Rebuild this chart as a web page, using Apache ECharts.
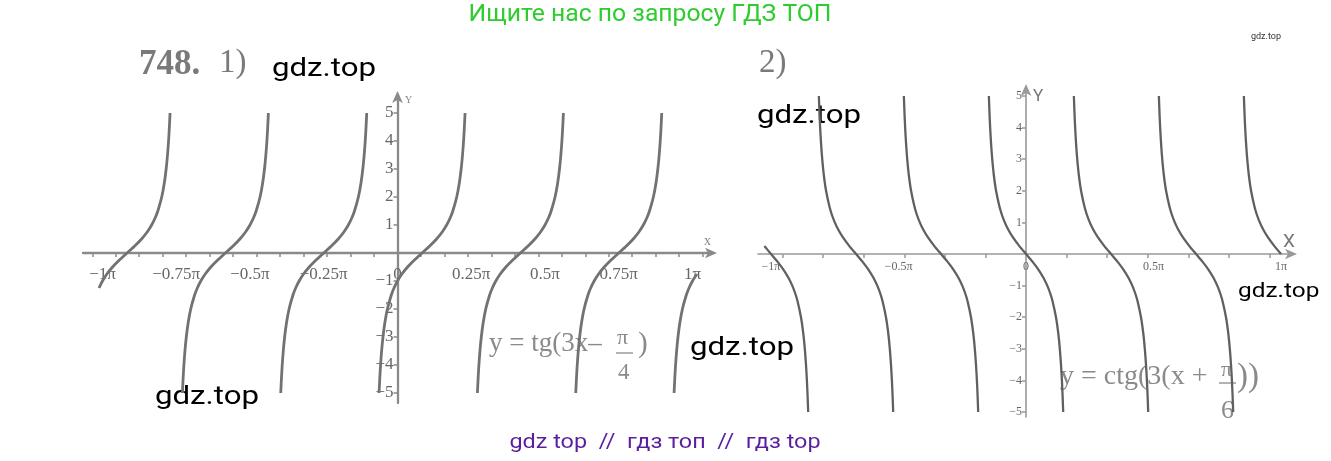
<!DOCTYPE html>
<html>
<head>
<meta charset="utf-8">
<script src="https://cdn.jsdelivr.net/npm/echarts@6/dist/echarts.min.js"></script>
<style>
html,body{margin:0;padding:0;background:#fff;}
#chart{width:1331px;height:461px;}
</style>
</head>
<body>
<div id="chart"></div>
<script>
// ---- Data (x in radians) ----
// Shape of one branch: offset from the branch centre (rad) and the value.
const branchDx = [-0.4578,-0.4507,-0.4420,-0.4308,-0.4163,-0.3968,-0.3691,-0.3276,-0.2987,-0.2618,-0.2145,-0.1545,-0.0817,0,0.0817,0.1545,0.2145,0.2618,0.2987,0.3276,0.3691,0.3968,0.4163,0.4308,0.4420,0.4507,0.4578];
const tanY = [-5,-4.5,-4,-3.5,-3,-2.5,-2,-1.5,-1.25,-1,-0.75,-0.5,-0.25,0,0.25,0.5,0.75,1,1.25,1.5,2,2.5,3,3.5,4,4.5,5];
const cotY = [5,4.5,4,3.5,3,2.5,2,1.5,1.25,1,0.75,0.5,0.25,0,-0.25,-0.5,-0.75,-1,-1.25,-1.5,-2,-2.5,-3,-3.5,-4,-4.5,-5];

// Left plot: y = tg(3x - pi/4) branch centres (zeros) and visible value range
const leftCenters = [-2.8798,-1.8326,-0.7854,0.2618,1.3090,2.3562,3.4034];
const leftYLow  = [-1.25,-5,-5,-5,-5,-5,-5];
const leftYHigh = [5,5,5,5,5,5,-0.75];

// Right plot: y = ctg(3(x + pi/6)) branch centres (zeros) and visible value range
const rightCenters = [-3.1416,-2.0944,-1.0472,0,1.0472,2.0944,3.1416];
const rightYLow  = [-5,-5,-5,-5,-5,-5,0];
const rightYHigh = [0.25,5,5,5,5,5,5];

// Axis ticks / labels
const leftXLabelPos  = [-1,-0.75,-0.5,-0.25,0,0.25,0.5,0.75,1];   // multiples of pi
const leftXLabelText = ['−1π','−0.75π','−0.5π','−0.25π','0','0.25π','0.5π','0.75π','1π'];
const leftXTicks = [-3.25,-3,-2.75,-2.5,-2.25,-2,-1.75,-1.5,-1.25,-1,-0.75,-0.5,-0.25,0.25,0.5,0.75,1,1.25,1.5,1.75,2,2.25,2.5,2.75,3,3.25];
const rightXLabelPos  = [-1,-0.5,0,0.5,1];
const rightXLabelText = ['−1π','−0.5π','0','0.5π','1π'];
const rightXTicks = [-3,-2.5,-2,-1.5,-1,-0.5,0.5,1,1.5,2,2.5,3];
const yTicks = [-5,-4,-3,-2,-1,1,2,3,4,5];
const yLabelText = {'-5':'−5','-4':'−4','-3':'−3','-2':'−2','-1':'−1','1':'1','2':'2','3':'3','4':'4','5':'5'};

// ---- Layout ----
const grids = [
  {left: 83, top: 95, width: 630, height: 308},
  {left: 758, top: 88, width: 535, height: 329}
];
const xRange = [[-3.349, 3.360], [-3.302, 3.289]];
const yRange = [[-5.357, 5.643], [-5.158, 5.253]];

// ---- Build series ----
function branches(centers, ys, lows, highs, gridIdx, color, width) {
  return centers.map((c, i) => {
    const data = [];
    for (let j = 0; j < branchDx.length; j++) {
      if (ys[j] >= lows[i] - 1e-9 && ys[j] <= highs[i] + 1e-9) data.push([c + branchDx[j], ys[j]]);
    }
    return {
      type: 'line', xAxisIndex: gridIdx, yAxisIndex: gridIdx, data: data,
      showSymbol: false, smooth: 0.25, clip: true,
      lineStyle: {color: color, width: width, type: 'solid'}, silent: true
    };
  });
}
const series = [].concat(
  branches(leftCenters, tanY, leftYLow, leftYHigh, 0, '#727272', 2.8),
  branches(rightCenters, cotY, rightYLow, rightYHigh, 1, '#606060', 2.3)
);

const PI = Math.PI;
function xLabelFmt(pos, txt) {
  return function (v) {
    const m = Math.round(v / PI * 100) / 100;
    const k = pos.indexOf(m);
    return k >= 0 ? txt[k] : '';
  };
}
const serif = 'Liberation Serif, DejaVu Serif, serif';

// axis placed through the origin: offset from the grid edge by the position of 0 on the other axis
function zeroOffsetX(g) {
  const r = yRange[g];
  return -((0 - r[0]) / (r[1] - r[0])) * grids[g].height;
}
function zeroOffsetY(g) {
  const r = xRange[g];
  return -((0 - r[0]) / (r[1] - r[0])) * grids[g].width;
}

function xAxis(g, labelPos, labelText, ticks, color, lw, fs, margin) {
  return {
    type: 'value', gridIndex: g, min: xRange[g][0], max: xRange[g][1],
    position: 'bottom', offset: zeroOffsetX(g),
    splitLine: {show: false},
    axisLine: {onZero: false, symbol: ['none', 'arrow'], symbolSize: [8, 12], symbolOffset: [0, 4],
      lineStyle: {color: color, width: lw}},
    axisTick: {show: true, customValues: ticks.slice(), length: 4, inside: false, lineStyle: {color: color, width: 1.5}},
    axisLabel: {customValues: labelPos.map(m => m * PI), formatter: xLabelFmt(labelPos, labelText),
      fontFamily: serif, fontSize: fs, color: '#666', margin: margin}
  };
}
function yAxis(g, color, lw, fs, margin) {
  return {
    type: 'value', gridIndex: g, min: yRange[g][0], max: yRange[g][1],
    position: 'left', offset: zeroOffsetY(g),
    splitLine: {show: false},
    axisLine: {onZero: false, symbol: ['none', 'arrow'], symbolSize: [8, 12], symbolOffset: [0, 4],
      lineStyle: {color: color, width: lw}},
    axisTick: {show: true, customValues: yTicks.slice(), length: 4, lineStyle: {color: color, width: 1.5}},
    axisLabel: {customValues: yTicks.slice(), formatter: v => yLabelText[String(v)] || '',
      fontFamily: serif, fontSize: fs, color: '#666', margin: margin}
  };
}

function txt(x, y, s, opt, sx) {
  return {type: 'text', x: x, y: y, scaleX: sx || 1, silent: true,
    style: Object.assign({text: s, textAlign: 'left', textVerticalAlign: 'middle', fill: '#000',
      font: '24px Roboto, sans-serif'}, opt || {})};
}

const option = {
  backgroundColor: '#ffffff',
  animation: false,
  grid: grids,
  xAxis: [
    xAxis(0, leftXLabelPos, leftXLabelText, leftXTicks, '#8a8a8a', 2.3, 17, 13),
    xAxis(1, rightXLabelPos, rightXLabelText, rightXTicks, '#999999', 1.6, 12, 7)
  ],
  yAxis: [
    yAxis(0, '#8a8a8a', 2.3, 17, 4),
    yAxis(1, '#999999', 1.6, 12, 4)
  ],
  series: series,
  graphic: [
    txt(650, 15, 'Ищите нас по запросу ГДЗ ТОП', {textAlign: 'center', fill: '#2ecc2e', font: '24px Roboto, sans-serif'}, 1.03),
    txt(1266, 37, 'gdz.top', {textAlign: 'center', fill: '#333', font: '9px Roboto, sans-serif'}),
    txt(139, 65, '748.', {fill: '#7a7a7a', font: 'bold 35px ' + serif}),
    txt(219, 63, '1)', {fill: '#7a7a7a', font: '33px ' + serif}),
    txt(759, 63, '2)', {fill: '#7a7a7a', font: '33px ' + serif}),
    // axis names
    txt(405, 100, 'Y', {fill: '#888', font: '10px ' + serif}),
    txt(704, 241, 'x', {fill: '#888', font: '14px ' + serif}),
    txt(1033, 97, 'Y', {fill: '#777', font: '17px Roboto, sans-serif'}),
    txt(1283, 242, 'X', {fill: '#777', font: '19px Roboto, sans-serif'}),
    // formulas
    txt(489, 344, 'y = tg(3x–', {fill: '#8a8a8a', font: '27px ' + serif}),
    txt(617, 338, 'π', {fill: '#8a8a8a', font: '22px ' + serif}),
    {type: 'line', silent: true, shape: {x1: 616, y1: 353, x2: 633, y2: 353}, style: {stroke: '#8a8a8a', lineWidth: 1.3}},
    txt(618, 373, '4', {fill: '#8a8a8a', font: '23px ' + serif}),
    txt(638, 344, ')', {fill: '#8a8a8a', font: '29px ' + serif}),
    txt(1060, 377, 'y = ctg(3(x +', {fill: '#8a8a8a', font: '28px ' + serif}),
    txt(1221, 370, 'π', {fill: '#8a8a8a', font: '22px ' + serif}),
    {type: 'line', silent: true, shape: {x1: 1219, y1: 383, x2: 1236, y2: 383}, style: {stroke: '#8a8a8a', lineWidth: 1.3}},
    txt(1221, 411, '6', {fill: '#8a8a8a', font: '26px ' + serif}),
    txt(1237, 377, '))', {fill: '#8a8a8a', font: '33px ' + serif}),
    // watermarks
    txt(272, 69, 'gdz.top', {font: '26px Roboto, sans-serif'}, 1.2),
    txt(757, 116, 'gdz.top', {font: '26px Roboto, sans-serif'}, 1.2),
    txt(155, 397, 'gdz.top', {font: '26px Roboto, sans-serif'}, 1.2),
    txt(690, 348, 'gdz.top', {font: '26px Roboto, sans-serif'}, 1.2),
    txt(1238, 292, 'gdz.top', {font: '20px Roboto, sans-serif'}, 1.22),
    txt(665, 443, 'gdz top  //  гдз топ  //  гдз top', {textAlign: 'center', fill: '#5a1fa0', font: '20px Roboto, sans-serif'}, 1.17)
  ]
};

const chart = echarts.init(document.getElementById('chart'), null, {renderer: 'canvas'});
chart.setOption(option);
</script>
</body>
</html>
